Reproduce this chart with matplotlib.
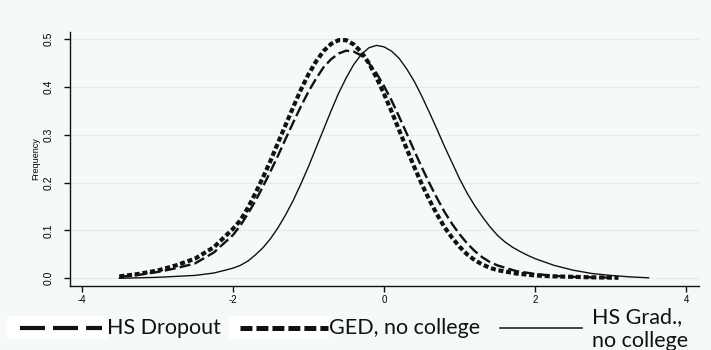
import matplotlib
matplotlib.use('Agg')
import matplotlib.pyplot as plt
from matplotlib.lines import Line2D
from matplotlib.patches import Rectangle

# Kernel density of the standardized score, by schooling group
x_grad = [-3.5, -3.25, -3.0, -2.75, -2.5, -2.25, -2.0,
          -1.9, -1.8, -1.7, -1.6, -1.5, -1.4, -1.3, -1.2, -1.1, -1.0,
          -0.9, -0.8, -0.7, -0.6, -0.5, -0.4, -0.3, -0.2, -0.1, 0.0,
          0.1, 0.2, 0.3, 0.4, 0.5, 0.6, 0.7, 0.8, 0.9, 1.0,
          1.1, 1.2, 1.3, 1.4, 1.5, 1.6, 1.7, 1.8, 1.9,
          2.0, 2.25, 2.5, 2.75, 3.0, 3.25, 3.5]
y_grad = [0.000, 0.001, 0.002, 0.004, 0.006, 0.011, 0.021,
          0.027, 0.036, 0.049, 0.064, 0.083, 0.106, 0.133, 0.163, 0.197, 0.233,
          0.272, 0.311, 0.350, 0.387, 0.419, 0.447, 0.468, 0.482, 0.487, 0.484,
          0.475, 0.460, 0.438, 0.412, 0.381, 0.347, 0.312, 0.276, 0.242, 0.208,
          0.178, 0.152, 0.129, 0.108, 0.090, 0.076, 0.065, 0.056, 0.048,
          0.041, 0.027, 0.017, 0.010, 0.006, 0.003, 0.001]

x_other = [-3.5, -3.25, -3.0, -2.75, -2.5, -2.25, -2.0,
           -1.9, -1.8, -1.7, -1.6, -1.5, -1.4, -1.3, -1.2, -1.1, -1.0,
           -0.9, -0.8, -0.7, -0.6, -0.5, -0.4, -0.3, -0.2, -0.1, 0.0,
           0.1, 0.2, 0.3, 0.4, 0.5, 0.6, 0.7, 0.8, 0.9, 1.0,
           1.1, 1.2, 1.3, 1.4, 1.5,
           1.75, 2.0, 2.25, 2.5, 2.75, 3.1]
y_dropout = [0.003, 0.007, 0.013, 0.021, 0.031, 0.054, 0.090,
             0.110, 0.135, 0.162, 0.192, 0.224, 0.257, 0.292, 0.326, 0.359, 0.390,
             0.417, 0.441, 0.458, 0.470, 0.476, 0.474, 0.466, 0.450, 0.429, 0.402,
             0.372, 0.338, 0.303, 0.267, 0.232, 0.199, 0.168, 0.139, 0.114, 0.092,
             0.073, 0.057, 0.044, 0.034, 0.027,
             0.015, 0.009, 0.005, 0.003, 0.002, 0.001]
y_ged = [0.004, 0.009, 0.016, 0.027, 0.041, 0.065, 0.103,
         0.121, 0.147, 0.178, 0.211, 0.246, 0.284, 0.321, 0.358, 0.394, 0.426,
         0.453, 0.475, 0.490, 0.498, 0.498, 0.489, 0.473, 0.450, 0.420, 0.386,
         0.349, 0.310, 0.271, 0.233, 0.197, 0.164, 0.134, 0.107, 0.085, 0.066,
         0.050, 0.038, 0.029, 0.022, 0.017,
         0.010, 0.006, 0.004, 0.003, 0.002, 0.001]

labels = ['HS Dropout', 'GED, no college', 'HS Grad.,\nno college']
xticks = [-4, -2, 0, 2, 4]
yticks = [0.0, 0.1, 0.2, 0.3, 0.4, 0.5]

plt.rcParams['lines.scale_dashes'] = False

W, H = 711, 350
bg = '#f5faf8'
grid_col = '#e4e9f2'
ink = '#111111'

fig = plt.figure(figsize=(W / 100, H / 100), dpi=100, facecolor=bg)
ax = fig.add_axes([70 / W, 1 - 285.7 / H, 629 / W, 253.7 / H])
ax.set_facecolor(bg)

styles = [
    dict(lw=1.7, ls=(0, (8, 3))),
    dict(lw=3.0, ls=(0, (3.6, 2.0))),
    dict(lw=1.0, ls='-'),
]

ax.plot(x_other, y_dropout, color=ink, dash_capstyle='butt', **styles[0])
ax.plot(x_other, y_ged, color=ink, dash_capstyle='butt', **styles[1])
ax.plot(x_grad, y_grad, color=ink, **styles[2])

ax.set_xlim(-4.153, 4.167)
ax.set_ylim(-0.0155, 0.515)
ax.set_xticks(xticks)
ax.set_xticklabels([str(t) for t in xticks], family='Liberation Sans', fontsize=7)
ax.set_yticks(yticks)
ax.set_yticklabels(['%.1f' % t for t in yticks], family='Liberation Sans', fontsize=7.5,
                   rotation=90, va='center')
ax.tick_params(axis='x', length=4, width=1, color=ink, pad=3)
ax.tick_params(axis='y', length=4, width=1, color=ink, pad=8)
ax.grid(axis='y', color=grid_col, lw=0.8)
ax.set_axisbelow(True)
for side in ['top', 'right']:
    ax.spines[side].set_visible(False)
for side in ['left', 'bottom']:
    ax.spines[side].set_color(ink)
    ax.spines[side].set_linewidth(1.0)

fig.text(36 / W, 1 - 158.5 / H, 'Frequency', rotation=90, ha='center', va='center',
         family='Liberation Sans', fontsize=6.5)


def fx(p):
    return p / W


def fy(p):
    return 1 - p / H


# Legend row below the axes
leg_font = dict(family='Lato', fontsize=15.5, color=ink)
y_sym = 327.7

fig.add_artist(Rectangle((fx(7), fy(339)), 100 / W, 23 / H, facecolor='white',
                         edgecolor='none', transform=fig.transFigure))
fig.add_artist(Line2D([fx(20), fx(102)], [fy(y_sym)] * 2, color=ink, lw=3.0,
                      ls=(0, (18, 5.8)), dash_capstyle='butt', transform=fig.transFigure))
fig.text(fx(107), fy(334.3), labels[0], va='baseline', ha='left', **leg_font)

fig.add_artist(Rectangle((fx(229), fy(339)), 100 / W, 23 / H, facecolor='white',
                         edgecolor='none', transform=fig.transFigure))
fig.add_artist(Line2D([fx(240), fx(328)], [fy(y_sym)] * 2, color=ink, lw=3.6,
                      ls=(0, (8.6, 2.9)), dash_capstyle='butt', transform=fig.transFigure))
fig.text(fx(329), fy(334.3), labels[1], va='baseline', ha='left', **leg_font)

fig.add_artist(Line2D([fx(500), fx(582)], [fy(y_sym)] * 2, color=ink, lw=1.1,
                      transform=fig.transFigure))
for i, line in enumerate(labels[2].split('\n')):
    fig.text(fx(592), fy(323.3 + 24 * i), line, va='baseline', ha='left', **leg_font)

fig.savefig('out.png', dpi=100, facecolor=bg)
